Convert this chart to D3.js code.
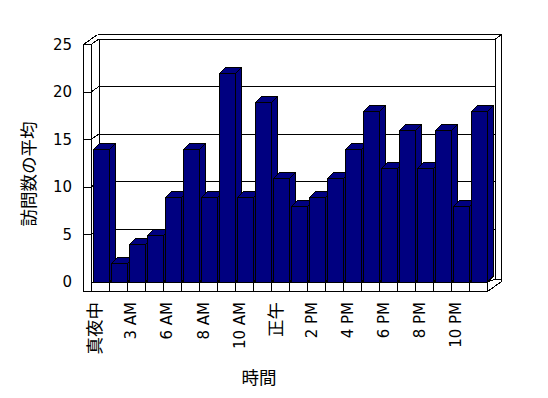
<!DOCTYPE html>
<html>
<head>
<meta charset="utf-8">
<script src="https://cdn.jsdelivr.net/npm/d3@7"></script>
<style>
  body { margin: 0; background: #fff; }
  svg { display: block; }
  text { font-family: "DejaVu Sans", "Noto Sans CJK JP", sans-serif; font-size: 15px; fill: #000; }
  .cjk { font-family: "Noto Sans CJK JP", sans-serif; font-size: 17.5px; fill: #000; }
</style>
</head>
<body>
<div id="chart"></div>
<script>
// hours shown on the x axis (only every other label is printed)
const categories = ["真夜中", "1 AM", "3 AM", "5 AM", "6 AM", "7 AM", "8 AM", "9 AM", "10 AM", "11 AM",
  "正午", "1 PM", "2 PM", "3 PM", "4 PM", "5 PM", "6 PM", "7 PM", "8 PM", "9 PM", "10 PM", "11 PM"];
const visits = [14, 2, 4, 5, 9, 14, 9, 22, 9, 19, 11, 8, 9, 11, 14, 18, 12, 16, 12, 16, 8, 18];
const yTicks = [0, 5, 10, 15, 20, 25];
const yTitle = "訪問数の平均";
const xTitle = "時間";

const width = 548, height = 398;
const barColor = "#000080";

// front plane scales
const x = d3.scaleBand().domain(categories).range([91, 487.5]).padding(0);
const y = d3.scaleLinear().domain([0, 25]).range([282, 44.5]);

const wallOuter = 83.5;               // outer face of the left wall
const back = { dx: 8, dy: -5.5 };     // front -> inner back wall
const backOuter = { dx: 14, dy: -10 }; // front -> outer back wall
const bar = { inset: 2, w: 16, dx: 6, dy: -6 };
const floorDepth = 9.5;

const svg = d3.select("#chart").append("svg")
  .attr("width", width)
  .attr("height", height);

const frame = svg.append("g")
  .attr("fill", "none")
  .attr("stroke", "#000")
  .attr("stroke-width", 1)
  .attr("shape-rendering", "crispEdges");

const x0 = x.range()[0], x1 = x.range()[1];
const yTop = y(25), yBase = y(0);

const seg = (a, b, c, d) => frame.append("line").attr("x1", a).attr("y1", b).attr("x2", c).attr("y2", d);

// left wall
seg(wallOuter, yTop, wallOuter, yBase + floorDepth);
seg(x0, yTop, x0, yBase);
seg(wallOuter, yTop, x0, yTop);
seg(wallOuter, yTop, wallOuter + backOuter.dx, yTop + backOuter.dy);
seg(x0, yTop, x0 + back.dx, yTop + back.dy);
seg(x0 + back.dx, yTop + back.dy, x0 + back.dx, yBase + back.dy);

// back wall border
seg(wallOuter + backOuter.dx, yTop + backOuter.dy, x1 + backOuter.dx, yTop + backOuter.dy);
seg(x0 + back.dx, yTop + back.dy, x1 + back.dx, yTop + back.dy);
seg(x1 + back.dx, yTop + back.dy, x1 + backOuter.dx, yTop + backOuter.dy);
seg(x1 + back.dx, yTop + back.dy, x1 + back.dx, yBase - 3);
seg(x1 + backOuter.dx, yTop + backOuter.dy, x1 + backOuter.dx, yBase + floorDepth + backOuter.dy);

// gridlines across the left wall and the back wall
yTicks.filter(v => v > 0 && v < 25).forEach(v => {
  seg(wallOuter, y(v), x0, y(v));
  seg(x0, y(v), x0 + back.dx, y(v) + back.dy);
  seg(x0 + back.dx, y(v) + back.dy, x1 + back.dx, y(v) + back.dy);
});

// bars, painted left to right
const bars = svg.append("g")
  .attr("fill", barColor)
  .attr("stroke", "#000")
  .attr("stroke-width", 1)
  .attr("shape-rendering", "crispEdges");

categories.forEach((c, i) => {
  const l = Math.round(x(c)) + bar.inset + 0.5;
  const r = l + bar.w;
  const t = Math.round(y(visits[i])) + 0.5;
  const b = yBase;
  const g = bars.append("g");
  g.append("polygon") // side
    .attr("points", [[r, b], [r + bar.dx, b + bar.dy], [r + bar.dx, t + bar.dy], [r, t]].join(" "));
  g.append("polygon") // top
    .attr("points", [[l, t], [l + bar.dx, t + bar.dy], [r + bar.dx, t + bar.dy], [r, t]].join(" "));
  g.append("rect") // front
    .attr("x", l).attr("y", t)
    .attr("width", bar.w).attr("height", b - t);
});

// floor front face and right side
const floor = svg.append("g")
  .attr("stroke", "#000")
  .attr("stroke-width", 1)
  .attr("shape-rendering", "crispEdges");

floor.append("rect")
  .attr("x", x0).attr("y", yBase)
  .attr("width", x1 - x0).attr("height", floorDepth)
  .attr("fill", "#fff");
floor.append("polygon")
  .attr("fill", "#fff")
  .attr("points", [[x1, yBase], [x1 + back.dx, yBase - 3], [x1 + backOuter.dx, yBase - 3],
    [x1 + backOuter.dx, yBase + floorDepth + backOuter.dy], [x1, yBase + floorDepth]].join(" "));
floor.append("line")
  .attr("x1", wallOuter).attr("y1", yBase + floorDepth)
  .attr("x2", x1).attr("y2", yBase + floorDepth);
floor.selectAll("line.div")
  .data(categories.slice(1))
  .join("line")
  .attr("class", "div")
  .attr("x1", d => x(d)).attr("x2", d => x(d))
  .attr("y1", yBase).attr("y2", yBase + floorDepth);

// y tick labels
svg.append("g")
  .selectAll("text")
  .data(yTicks)
  .join("text")
  .attr("x", 72)
  .attr("y", d => y(d))
  .attr("dy", "0.36em")
  .attr("text-anchor", "end")
  .text(d => d);

// x tick labels, every second category, rotated
svg.append("g")
  .selectAll("text")
  .data(categories.filter((c, i) => i % 2 === 0))
  .join("text")
  .attr("class", d => /[^\x00-\x7F]/.test(d) ? "cjk" : null)
  .attr("transform", d => `translate(${x(d) + 4},302) rotate(-90)`)
  .attr("dy", "0.36em")
  .attr("text-anchor", "end")
  .text(d => d);

// axis titles
svg.append("text")
  .attr("class", "cjk")
  .attr("transform", "translate(29,174) rotate(-90)")
  .attr("dy", "0.36em")
  .attr("text-anchor", "middle")
  .text(yTitle);

svg.append("text")
  .attr("class", "cjk")
  .attr("x", 259)
  .attr("y", 378)
  .attr("dy", "0.36em")
  .attr("text-anchor", "middle")
  .text(xTitle);
</script>
</body>
</html>
